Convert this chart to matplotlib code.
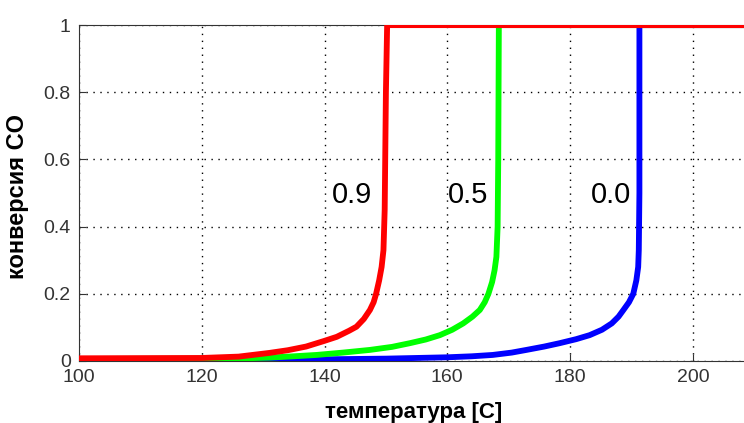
import matplotlib.pyplot as plt

plt.rcParams['font.family'] = ['Liberation Sans', 'DejaVu Sans']

# conversion curves: temperature [C] vs CO conversion
t_09 = [100, 120, 126, 131, 134, 137, 140, 142, 144, 145.2, 146.4, 147.4, 148.0, 148.4,
        148.9, 149.3, 149.6, 149.8, 150.0, 150.2, 220]
y_09 = [0.008, 0.009, 0.013, 0.024, 0.032, 0.043, 0.06, 0.072, 0.09, 0.102, 0.125, 0.152, 0.175, 0.2,
        0.24, 0.28, 0.33, 0.45, 0.8, 1.0, 1.0]

t_05 = [100, 125, 131, 135, 138.7, 143, 147.4, 151, 153.9, 156.5, 158.8, 160.8, 162.6, 164.1,
        165.3, 166.1, 166.7, 167.3, 167.7, 168.0, 168.2, 168.3, 168.4, 220]
y_05 = [0.006, 0.007, 0.01, 0.014, 0.018, 0.025, 0.033, 0.042, 0.053, 0.064, 0.077, 0.093, 0.112, 0.132,
        0.152, 0.175, 0.2, 0.235, 0.27, 0.31, 0.4, 0.6, 1.0, 1.0]

t_00 = [100, 140, 150, 160, 164, 167.4, 170.5, 172.9, 175.8, 178.3, 181, 183.2, 185.2, 186.8,
        187.9, 188.7, 189.6, 190.3, 190.8, 191.1, 191.2, 191.3, 191.3, 220]
y_00 = [0.004, 0.005, 0.007, 0.011, 0.014, 0.018, 0.025, 0.033, 0.043, 0.053, 0.065, 0.077, 0.093, 0.112,
        0.132, 0.152, 0.175, 0.2, 0.24, 0.28, 0.33, 0.5, 1.0, 1.0]

curve_labels = ['0.9', '0.5', '0.0']
label_x = [144.4, 163.4, 186.6]
label_y = [0.494, 0.494, 0.494]

xticks = [100, 120, 140, 160, 180, 200]
yticks = [0, 0.2, 0.4, 0.6, 0.8, 1.0]
yticklabels = ['0', '0.2', '0.4', '0.6', '0.8', '1']

fig = plt.figure(figsize=(7.44, 4.23), dpi=100)
ax = fig.add_axes([0.1062, 0.1466, 0.990, 0.794])

ax.plot(t_00, y_00, color='#0000ff', lw=4.2, solid_capstyle='butt', zorder=3)
ax.plot(t_05, y_05, color='#00ff00', lw=4.2, solid_capstyle='butt', zorder=4)
ax.plot(t_09, y_09, color='#ff0000', lw=4.2, solid_capstyle='butt', zorder=5)

for lab, x, y in zip(curve_labels, label_x, label_y):
    ax.text(x, y, lab, fontsize=21, ha='center', va='center', color='black')

ax.set_xlim(100, 220)
ax.set_ylim(0, 1)
ax.set_xticks(xticks)
ax.set_yticks(yticks)
ax.set_yticklabels(yticklabels)
ax.tick_params(direction='in', length=5, labelsize=14, labelcolor='#333333', color='#333333', pad=6)
ax.grid(True, linestyle=(0, (1, 4)), color='black', lw=1)

for s in ax.spines.values():
    s.set_color('#333333')

ax.set_xlabel('температура [C]', fontsize=16, fontweight='bold', va='center')
ax.xaxis.set_label_coords(0.4545, -0.152)
ax.set_ylabel('конверсия CO', fontsize=17, fontweight='bold', va='center')
ax.yaxis.set_label_coords(-0.083, 0.49)

fig.savefig('out.png', dpi=100)
